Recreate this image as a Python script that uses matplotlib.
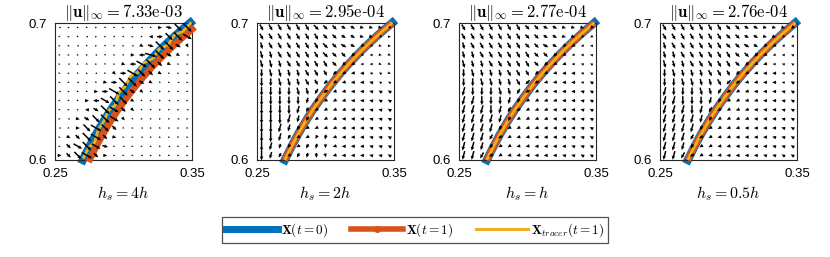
import numpy as np
import matplotlib
matplotlib.use('Agg')
import matplotlib.pyplot as plt
from matplotlib.lines import Line2D

plt.rcParams['mathtext.fontset'] = 'cm'
plt.rcParams['font.family'] = ['Liberation Sans', 'DejaVu Sans']

BLUE = '#0072BD'
ORANGE = '#D95319'
YELLOW = '#EDB120'

# --- data ---
NORMS = ['7.33', '2.95', '2.77', '2.76']
EXPS = ['03', '04', '04', '04']
HS = ['4h', '2h', 'h', '0.5h']

# initial interface X(t=0), same in all panels
X0_X = [0.2703, 0.2750, 0.2800, 0.2854, 0.2911, 0.2972, 0.3036, 0.3104, 0.3175, 0.3249, 0.3326, 0.3406, 0.3488]
X0_Y = [0.6000, 0.6095, 0.6189, 0.6281, 0.6371, 0.6458, 0.6544, 0.6627, 0.6707, 0.6785, 0.6860, 0.6932, 0.7002]

# X(t=1) for hs = 4h (shifted down-right), the others sit on X(t=0)
X1_X_4h = [0.2745, 0.2790, 0.2840, 0.2893, 0.2950, 0.3010, 0.3074, 0.3142, 0.3213, 0.3287, 0.3364, 0.3443, 0.3520]
X1_Y_4h = [0.5985, 0.6078, 0.6170, 0.6261, 0.6350, 0.6436, 0.6521, 0.6603, 0.6683, 0.6760, 0.6834, 0.6905, 0.6970]

# tracer for hs = 4h (wiggly)
TR_X_4h = [0.2705, 0.2745, 0.2790, 0.2815, 0.2855, 0.2890, 0.2940, 0.2965, 0.3015, 0.3050, 0.3105,
           0.3150, 0.3215, 0.3260, 0.3325, 0.3370, 0.3435, 0.3495]
TR_Y_4h = [0.6010, 0.6090, 0.6130, 0.6220, 0.6280, 0.6360, 0.6400, 0.6490, 0.6540, 0.6610, 0.6640,
           0.6710, 0.6740, 0.6810, 0.6840, 0.6910, 0.6940, 0.7005]

# velocity field on a 15x15 grid, rows from the top.
# direction letters: A=0 deg, B=15, ... X=345 ; lengths in pixels (hex digits)
DIR_4h = ["MAXWAVXAWMVAXVV", "XAWMAXVWAXMAVVW", "AXMWAVXAMWXVVWU", "WAXAMVXWAMXVWWM",
          "AMXWAVAXMWVVWXA", "XAWAMXVAWVVWXAA", "AXMAWXAVVWWXAMA", "MAXWAAWVWVXAAXW",
          "AXWAMWVVWWAXMAA", "XAAMWVWVVWAAXAM", "AMXWVVWVWAXAAMA", "MXAVWVVWAMAXAAX",
          "AWVVWVXAAMXAAWA", "AVWVWXAMAAXAMAA", "AVVWVAAXAMAAXAA"]
LEN_4h = ["2222222222246ac", "222222222246aca", "22222222246cc64", "2222222246cc642",
          "222222246cc6422", "22222246ca64222", "2222246cc642222", "222246cc6422222",
          "22246aca4222222", "22246ca64222222", "2246aca42222222", "224aca622222222",
          "246cc6422222222", "26aca6222222222", "46ac64222222222"]

DIR_2h = ["UUUUUUVVVWWXXXP", "UUUUUUUVVWWXXPA", "TUUUUUUVVWWPOXA", "TTUUUUUVVVPOMXW",
          "TTTUUUUUVPOMMXW", "STTTTUUUPONMLKW", "SSTTTUUPONMMLKK", "SSSSTTQONNMMLKK",
          "SSSSSRQOONMMLKK", "SSSSRQOONNMMLLK", "SSSRRQOONMMMLLK", "SSRRQOONNMMMLLK",
          "SSRQOOQRNMMMLLK", "SRRQOQRSNMMMLLK", "SRQOQRSTNMMMLLK"]
LEN_2h = ["777777766554443", "777777766554433", "777777776654333", "877777776653333",
          "887777776543333", "888777765444333", "988877654444433", "998887654444444",
          "a99886544444444", "aa9985444444444", "aaa975444444444", "aa9754444444444",
          "aa8544454444444", "a85445544444444", "a75455544444444"]

DIR_h = ["UUUUUUUVVWWXXXP", "UUUUUUUVVWWXXPO", "TUUUUUUVVWWPONM", "TTUUUUUUVVPONML",
         "TTTUUUUUVPONMLK", "STTTTUUUPONMMLK", "SSTTTTUPONNMMLK", "RSSSTTQOONMMMLK",
         "RRSSSRQOONNMMLK", "RRRSRQOONNMMMLK", "RRRRRQOONNMMMLK", "RRRRQOONNMMMMLK",
         "RRRQOONNMMMMLLK", "RRRQOONNMMMMLLK", "RRQOONNMMMMLLKK"]
LEN_h = ["777777766554444", "777777766554433", "777777766654433", "777777776654333",
         "877777776544333", "887777765444433", "888877765444434", "988887654444444",
         "999887544444444", "999986544444444", "999985444444444", "999954444444444",
         "999654444444444", "998544444444444", "997544444444444"]

DIR_05h = ["UUUUUUUVVWWXXXP", "UUUUUUUVVWWXXPO", "TUUUUUUVVWWPONM", "TTUUUUUUVVPONML",
           "TTTUUUUUVPONMLK", "STTTTUUUPONMMLK", "SSTTTTUPONNMMLK", "RSSSTTQOONMMMLK",
           "RRSSSRQOONNMMLK", "RRRSRQOONNMMMLK", "RRRRRQOONNMMMLK", "RRRRQOONNMMMMLK",
           "RRRQOONNMMMMLLK", "RRRQOONNMMMMLLK", "RRQOONNMMMMLLKK"]
LEN_05h = ["777777766554444", "777777766554433", "777777766654433", "777777776654333",
           "877777776544333", "887777765444433", "888877765444434", "988887654444444",
           "999887544444444", "999986544444444", "999985444444444", "999954444444444",
           "999654444444444", "998544444444444", "997544444444444"]

panels = [
    (DIR_4h, LEN_4h, X1_X_4h, X1_Y_4h, TR_X_4h, TR_Y_4h),
    (DIR_2h, LEN_2h, X0_X, X0_Y, X0_X, X0_Y),
    (DIR_h, LEN_h, X0_X, X0_Y, X0_X, X0_Y),
    (DIR_05h, LEN_05h, X0_X, X0_Y, X0_X, X0_Y),
]

W, H = 830, 257
fig = plt.figure(figsize=(W / 100, H / 100), dpi=100)

lefts = [55, 257, 459, 660]
size = 137
top = 23
PX = 0.1 / size  # data units per pixel

n = 15
gx = 0.25 + (np.arange(n) + 0.5) * 0.1 / n
gy = 0.70 - (np.arange(n) + 0.5) * 0.1 / n
GX, GY = np.meshgrid(gx, gy)

for i, (dirs, lens, ox, oy, tx, ty) in enumerate(panels):
    ax = fig.add_axes([lefts[i] / W, 1 - (top + size) / H, size / W, size / H])
    ang = np.radians(np.array([[(ord(ch) - 65) * 15 for ch in row] for row in dirs], float))
    L = np.array([[int(ch, 16) for ch in row] for row in lens], float) * PX
    U = L * np.cos(ang)
    V = L * np.sin(ang)

    ax.plot(X0_X, X0_Y, color=BLUE, lw=6, solid_capstyle='projecting', clip_on=False, zorder=2)
    ax.plot(ox, oy, color=ORANGE, lw=4.8, solid_capstyle='butt', clip_on=False, zorder=3)
    ax.plot(tx, ty, color=YELLOW, lw=2.0, solid_capstyle='butt', clip_on=False, zorder=4)
    ax.quiver(GX, GY, U, V, angles='xy', scale_units='xy', scale=1, pivot='mid',
              color='black', width=0.011, headwidth=2.4, headlength=2.6,
              headaxislength=2.4, minlength=0.5, zorder=5)

    ax.set_xlim(0.25, 0.35)
    ax.set_ylim(0.6, 0.7)
    ax.set_xticks([0.25, 0.35])
    ax.set_xticklabels(['0.25', '0.35'])
    ax.set_yticks([0.6, 0.7])
    ax.set_yticklabels(['0.6', '0.7'])
    ax.tick_params(length=0, pad=6, labelsize=9.5)
    for sp in ax.spines.values():
        sp.set_linewidth(0.8)
        sp.set_color('#262626')
    ax.set_title(r'$\|\mathbf{u}\|_\infty = \mathrm{' + NORMS[i] + r'e}$-$\mathrm{' + EXPS[i] + '}$',
                 fontsize=12, pad=3, family='DejaVu Serif')
    ax.set_xlabel(r'$h_s = ' + HS[i] + '$', fontsize=11.5, labelpad=3)

handles = [
    Line2D([], [], color=BLUE, lw=5),
    Line2D([], [], color=ORANGE, lw=4, marker='o', ms=4),
    Line2D([], [], color=YELLOW, lw=2.2),
]
labels = [r'$\mathbf{X}(t=0)$', r'$\mathbf{X}(t=1)$', r'$\mathbf{X}_{tracer}(t=1)$']
leg = fig.legend(handles, labels, loc='center', bbox_to_anchor=(0.5, 1 - 230 / H), ncol=3,
                 fontsize=9.5, frameon=True, fancybox=False, handlelength=4.0,
                 handletextpad=0.2, columnspacing=1.7, borderpad=0.3)
leg.get_frame().set_edgecolor('#262626')
leg.get_frame().set_linewidth(0.9)

fig.savefig('out.png', dpi=100)
